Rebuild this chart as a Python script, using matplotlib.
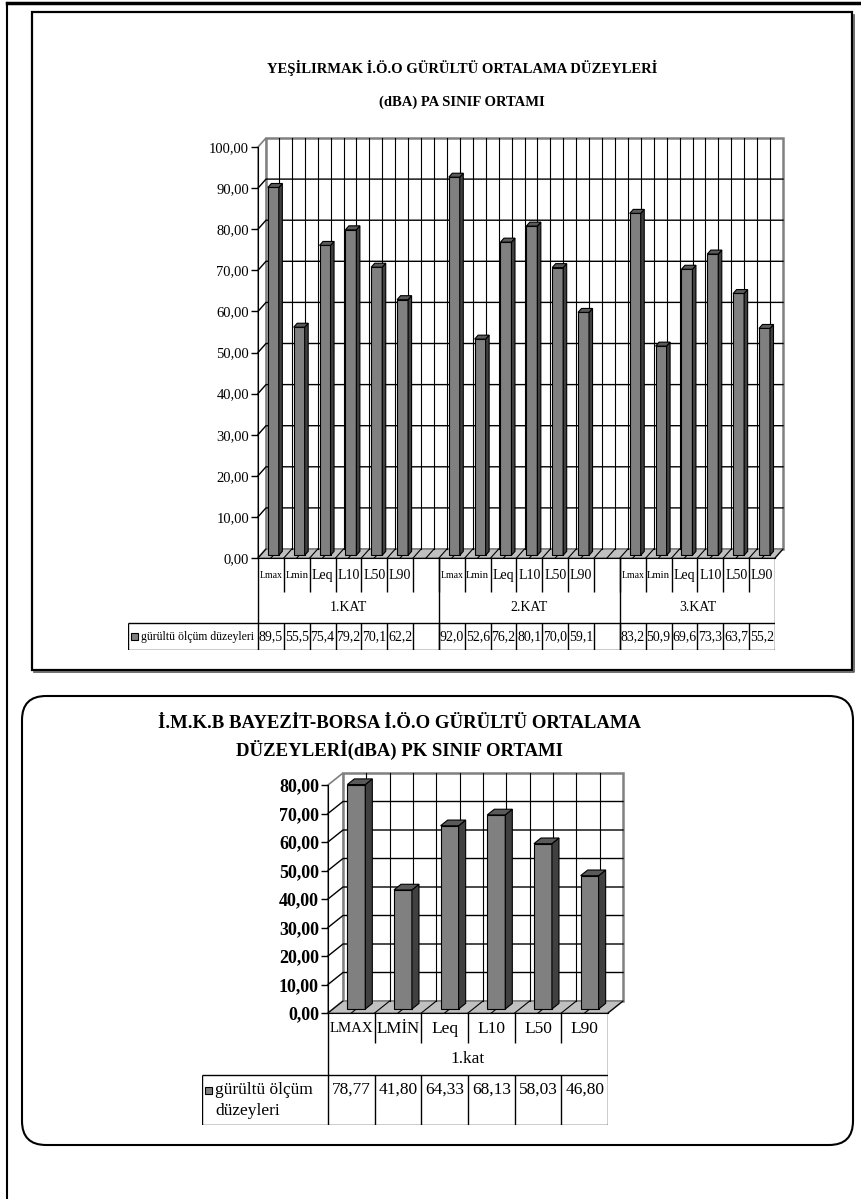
import matplotlib
matplotlib.use("Agg")
import matplotlib.pyplot as plt
from matplotlib.patches import Polygon, Rectangle, FancyBboxPatch
from matplotlib.ticker import FuncFormatter

plt.rcParams['font.family'] = ['Liberation Serif', 'DejaVu Serif']

W, H = 862, 1199

# Yeşilırmak İ.Ö.O - three floors
olcum = ["Lmax", "Lmin", "Leq", "L10", "L50", "L90"]
katlar1 = ["1.KAT", "2.KAT", "3.KAT"]
kat1 = [89.5, 55.5, 75.4, 79.2, 70.1, 62.2]
kat2 = [92.0, 52.6, 76.2, 80.1, 70.0, 59.1]
kat3 = [83.2, 50.9, 69.6, 73.3, 63.7, 55.2]

# İ.M.K.B Bayezit-Borsa İ.Ö.O - one floor
olcum2 = ["LMAX", "LMİN", "Leq", "L10", "L50", "L90"]
katlar2 = ["1.kat"]
bayezit = [78.77, 41.80, 64.33, 68.13, 58.03, 46.80]

seri_adi = "gürültü ölçüm düzeyleri"

baslik1 = ["YEŞİLIRMAK İ.Ö.O GÜRÜLTÜ ORTALAMA DÜZEYLERİ", "(dBA) PA SINIF ORTAMI"]
baslik2 = ["İ.M.K.B BAYEZİT-BORSA İ.Ö.O GÜRÜLTÜ ORTALAMA", "DÜZEYLERİ(dBA) PK SINIF ORTAMI"]

# first chart has an empty column after each floor except the last
labels1, values1, groups1 = [], [], []
for g, (name, vals) in enumerate(zip(katlar1, [kat1, kat2, kat3])):
    start = len(labels1)
    labels1 += olcum
    values1 += vals
    if g < len(katlar1) - 1:
        labels1.append("")
        values1.append(None)
    groups1.append((name, start, len(labels1)))

groups2 = [(katlar2[0], 0, len(olcum2))]

fig = plt.figure(figsize=(W / 100, H / 100), dpi=100)


def px_axes(x0, y0, x1, y1):
    return fig.add_axes([x0 / W, 1 - y1 / H, (x1 - x0) / W, (y1 - y0) / H])


def comma(v, dec):
    return f"{v:.{dec}f}".replace('.', ',')


# page lines and chart frames
pg = fig.add_axes([0, 0, 1, 1])
pg.set_xlim(0, W)
pg.set_ylim(H, 0)
pg.axis('off')
pg.plot([7, W], [3, 3], color='black', lw=2.5)
pg.plot([7, 7], [3, H], color='black', lw=1.5)
pg.add_patch(Rectangle((32, 12), 820, 658, fill=False, ec='black', lw=1.6))
pg.plot([854, 854, 34], [15, 672, 672], color='#555555', lw=1.2)
pg.add_patch(FancyBboxPatch((22, 696), 831, 449, boxstyle="round,pad=0,rounding_size=24",
                            fill=False, ec='black', lw=1.5))

pg.text(462, 68, baslik1[0], ha='center', va='center', fontsize=10.5, fontweight='bold')
pg.text(462, 102, baslik1[1], ha='center', va='center', fontsize=10.5, fontweight='bold')
pg.text(400, 724, baslik2[0], ha='center', va='center', fontsize=13.5, fontweight='bold')
pg.text(400, 750, baslik2[1], ha='center', va='center', fontsize=13.5, fontweight='bold')


def draw_chart(ax, values, ymax, step, depth, bar_w, f0, f1, tick_fs, tick_bold):
    n = len(values)
    ax.set_xlim(0, n)
    ax.set_ylim(0, ymax)
    ax.set_facecolor('none')
    bb = ax.get_position()
    ppx = bb.width * W / n
    ppy = bb.height * H / ymax
    dx, dy = depth[0] / ppx, depth[1] / ppy
    wall = '#808080'
    nc = dict(clip_on=False)

    # back wall, side wall and floor
    ax.add_patch(Polygon([(dx, dy), (n + dx, dy), (n + dx, ymax + dy), (dx, ymax + dy)],
                         fc='white', ec=wall, lw=1.8, zorder=1, **nc))
    ax.add_patch(Polygon([(0, 0), (dx, dy), (dx, ymax + dy), (0, ymax)],
                         fc='white', ec=wall, lw=1.2, zorder=1, **nc))
    ax.add_patch(Polygon([(0, 0), (n, 0), (n + dx, dy), (dx, dy)],
                         fc='#c0c0c0', ec=wall, lw=1.2, zorder=1, **nc))
    for k in range(2 * n + 1):
        x = k / 2
        if 0 < k < 2 * n:
            ax.plot([x + dx, x + dx], [dy, ymax + dy], color='black', lw=0.8, zorder=2, **nc)
        ax.plot([x, x + dx], [0, dy], color='black', lw=0.8, zorder=2, **nc)
    for v in range(step, ymax, step):
        ax.plot([0, dx, n + dx], [v, v + dy, v + dy], color='black', lw=1, zorder=2, **nc)

    # 3d columns
    ddx, ddy = (f1 - f0) * dx, (f1 - f0) * dy
    for i, v in enumerate(values):
        if v is None:
            continue
        xl = i + 0.5 - bar_w / 2 + f0 * dx
        xr = xl + bar_w
        y0, y1 = f0 * dy, v + f0 * dy
        kw = dict(ec='black', lw=0.8, zorder=3, **nc)
        ax.add_patch(Polygon([(xl, y0), (xr, y0), (xr, y1), (xl, y1)], fc='#808080', **kw))
        ax.add_patch(Polygon([(xr, y0), (xr + ddx, y0 + ddy), (xr + ddx, y1 + ddy), (xr, y1)],
                             fc='#404040', **kw))
        ax.add_patch(Polygon([(xl, y1), (xr, y1), (xr + ddx, y1 + ddy), (xl + ddx, y1 + ddy)],
                             fc='#5a5a5a', **kw))

    for s in ['top', 'right']:
        ax.spines[s].set_visible(False)
    ax.spines['left'].set_zorder(4)
    ax.spines['bottom'].set_zorder(4)
    ax.set_xticks([])
    ax.set_yticks(range(0, ymax + 1, step))
    ax.yaxis.set_major_formatter(FuncFormatter(lambda v, p: comma(v, 2)))
    ax.tick_params(axis='y', direction='out', length=5, width=1, pad=1.5, labelsize=tick_fs)
    if tick_bold:
        for t in ax.get_yticklabels():
            t.set_fontweight('bold')


def draw_table(tab, labels, values, groups, L, rows, fs, dec, leg_lines, leg_fs, val_y):
    n = len(labels)
    r1, r2, r3 = rows
    total = r1 + r2 + r3
    tab.set_xlim(-L, n)
    tab.set_ylim(total, 0)
    tab.axis('off')
    bb = tab.get_position()
    ppx = bb.width * W / (n + L)
    kw = dict(color='black', lw=1, solid_capstyle='butt')

    for i in range(1, n):
        tab.plot([i, i], [0, r1], **kw)
    for _, start, end in groups:
        tab.plot([start, start], [0, total], **kw)
    tab.plot([n, n], [0, total], **kw)

    y3 = r1 + r2
    tab.plot([-L, n], [y3, y3], **kw)
    tab.plot([-L, n], [total, total], **kw)
    tab.plot([-L, -L], [y3, total], **kw)
    for i in range(1, n):
        tab.plot([i, i], [y3, total], **kw)

    # category names; the long ones are shrunk to fit their cell
    renderer = fig.canvas.get_renderer()
    for i, lab in enumerate(labels):
        if not lab:
            continue
        t = tab.text(i + 0.5, r1 / 2 + 1, lab, ha='center', va='center', fontsize=fs)
        w = t.get_window_extent(renderer).width
        if w > ppx - 3:
            t.set_fontsize(fs * (ppx - 3) / w)

    for name, start, end in groups:
        tab.text((start + end) / 2, r1 + r2 / 2, name, ha='center', va='center', fontsize=fs)

    for i, v in enumerate(values):
        if v is None:
            continue
        tab.text(i + 0.5, y3 + val_y, comma(v, dec), ha='center', va='center', fontsize=fs)

    key = 7
    tab.add_patch(Rectangle((-L + 3 / ppx, y3 + val_y - key / 2), key / ppx, key,
                            fc='#808080', ec='black', lw=0.8))
    for j, line in enumerate(leg_lines):
        tab.text(-L + 13 / ppx, y3 + val_y + j * 21, line, ha='left', va='center', fontsize=leg_fs)


# chart 1
ax1 = px_axes(258, 147, 775, 558)
draw_chart(ax1, values1, 100, 10, (8, 9), 0.425, 0.3, 0.74, 10.5, False)
tab1 = px_axes(128, 558, 775, 650)
ppx1 = (775 - 258) / len(values1)
draw_table(tab1, labels1, values1, groups1, (258 - 128) / ppx1, (34, 31, 27),
           10, 1, [seri_adi], 8.5, 14)

# chart 2
ax2 = px_axes(328, 785, 608, 1013)
draw_chart(ax2, bayezit, 80, 10, (15, 12), 0.385, 0.33, 0.8, 13, True)
tab2 = px_axes(202, 1013, 608, 1125)
ppx2 = (608 - 328) / len(bayezit)
draw_table(tab2, olcum2, bayezit, groups2, (328 - 202) / ppx2, (30, 32, 50),
           12.5, 2, seri_adi.rsplit(' ', 1), 12.5, 15)

fig.savefig('out.png', dpi=100)
